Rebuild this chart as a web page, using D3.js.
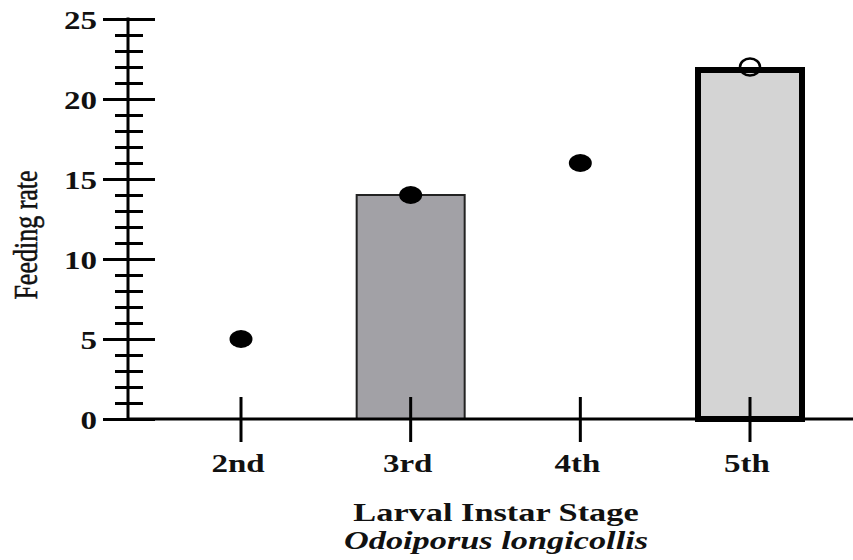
<!DOCTYPE html>
<html>
<head>
<meta charset="utf-8">
<script src="https://cdn.jsdelivr.net/npm/d3@7"></script>
<style>
  body { margin: 0; background: #fff; }
  svg { display: block; }
  text { font-family: "Liberation Serif", "Times New Roman", serif; fill: #111; }
</style>
</head>
<body>
<svg id="chart" width="853" height="560"></svg>
<script>
// data
const stages = ['2nd', '3rd', '4th', '5th'];
const barValues = [null, 14, null, 22];     // bar heights (none for 2nd and 4th)
const barFills = [null, '#a2a1a6', null, '#d4d4d4'];
const pointValues = [5, 14, 16, 22];
const pointOpen = [false, false, false, true];
const yTicks = [0, 5, 10, 15, 20, 25];

const W = 853, H = 560;
const stretch = 1.27;  // glyphs in the figure are a bit wide

const svg = d3.select('#chart');

const x = d3.scalePoint().domain(stages).range([241, 750]);
const y = d3.scaleLinear().domain([0, 25]).range([419, 19]);
const barW = 110;

// bars
const bars = stages.map((s, i) => ({ s: s, v: barValues[i], fill: barFills[i], i: i }))
  .filter(d => d.v != null);

svg.selectAll('rect.bar')
  .data(bars)
  .enter()
  .append('rect')
  .attr('class', 'bar')
  .attr('x', d => x(d.s) - barW / 2 + (d.i === 3 ? 3 : 1))
  .attr('width', d => barW - (d.i === 3 ? 6 : 2))
  .attr('y', d => y(d.v) + (d.i === 3 ? 3 : 0))
  .attr('height', d => y(0) - y(d.v) - (d.i === 3 ? 3 : 0))
  .attr('fill', d => d.fill)
  .attr('stroke', d => d.i === 3 ? '#000' : '#222')
  .attr('stroke-width', d => d.i === 3 ? 6 : 2);

// x axis line + crossing ticks
svg.append('line')
  .attr('x1', 128).attr('x2', W)
  .attr('y1', y(0)).attr('y2', y(0))
  .attr('stroke', '#000').attr('stroke-width', 3);

svg.selectAll('line.xtick')
  .data(stages)
  .enter()
  .append('line')
  .attr('class', 'xtick')
  .attr('x1', d => x(d)).attr('x2', d => x(d))
  .attr('y1', y(0) - 22).attr('y2', y(0) + 23)
  .attr('stroke', '#000').attr('stroke-width', 3);

svg.selectAll('text.xlab')
  .data(stages)
  .enter()
  .append('text')
  .attr('class', 'xlab')
  .attr('transform', d => `translate(${x(d) - 3},472) scale(${stretch},1)`)
  .attr('text-anchor', 'middle')
  .style('font-size', '26px')
  .style('font-weight', 'bold')
  .text(d => d);

// y axis: minor ticks every 1, major every 5
const gy = svg.append('g').attr('transform', 'translate(128,0)');

gy.append('g')
  .call(d3.axisLeft(y).tickValues(d3.range(0, 26, 1).filter(v => v % 5)).tickSize(13).tickFormat(''))
  .call(g => g.select('.domain').remove())
  .call(g => g.selectAll('.tick line').attr('x2', -13).attr('x1', 15).attr('stroke', '#000').attr('stroke-width', 3));

gy.append('g')
  .call(d3.axisLeft(y).tickValues(yTicks).tickSize(25).tickSizeOuter(0))
  .call(g => g.select('.domain').attr('stroke', '#000').attr('stroke-width', 3)
    .attr('d', `M0,${y(25) - 1.5}V${y(0) + 1.5}`))
  .call(g => g.selectAll('.tick line').attr('x2', -25).attr('x1', 27).attr('stroke', '#000').attr('stroke-width', 3))
  .call(g => g.selectAll('.tick text')
    .attr('x', null).attr('dy', null)
    .attr('transform', `translate(-31,9) scale(${stretch},1)`)
    .attr('text-anchor', 'end')
    .style('font-family', '"Liberation Serif", "Times New Roman", serif')
    .style('font-size', '26px')
    .style('font-weight', 'bold')
    .attr('fill', '#111'));

// points
svg.selectAll('ellipse.pt')
  .data(stages.map((s, i) => ({ s: s, v: pointValues[i], open: pointOpen[i] })))
  .enter()
  .append('ellipse')
  .attr('class', 'pt')
  .attr('cx', d => x(d.s))
  .attr('cy', d => y(d.v))
  .attr('rx', d => d.open ? 10 : 11.5)
  .attr('ry', d => d.open ? 8.5 : 9)
  .attr('fill', d => d.open ? 'none' : '#000')
  .attr('stroke', '#000')
  .attr('stroke-width', d => d.open ? 2.5 : 0);

// titles
svg.append('text')
  .attr('transform', `translate(37,235) scale(${stretch},1) rotate(-90)`)
  .attr('text-anchor', 'middle')
  .style('font-size', '26px')
  .attr('stroke', '#111').attr('stroke-width', 0.4)
  .text('Feeding rate');

svg.append('text')
  .attr('transform', `translate(496,521) scale(1.32,1)`)
  .attr('text-anchor', 'middle')
  .style('font-size', '26px')
  .style('font-weight', 'bold')
  .text('Larval Instar Stage');

svg.append('text')
  .attr('transform', `translate(496,549) scale(1.32,1)`)
  .attr('text-anchor', 'middle')
  .style('font-size', '26px')
  .style('font-weight', 'bold')
  .style('font-style', 'italic')
  .text('Odoiporus longicollis');
</script>
</body>
</html>
